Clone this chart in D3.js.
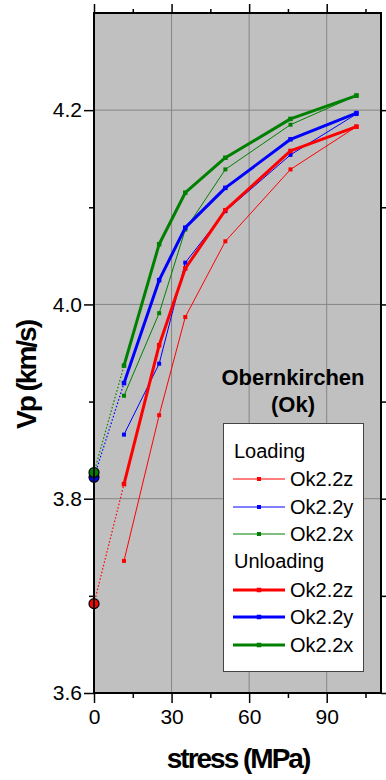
<!DOCTYPE html>
<html>
<head>
<meta charset="utf-8">
<script src="https://cdn.jsdelivr.net/npm/d3@7"></script>
<style>
  body { margin: 0; background: #fff; }
  svg { display: block; font-family: "Liberation Sans", Arial, sans-serif; }
</style>
</head>
<body>
<svg id="chart" width="386" height="780"></svg>
<script>
// stress steps (MPa) shared by every run
const stress = [11.6, 25.2, 35.3, 50.8, 76, 101.5];

// Vp (km/s)
const loadZ = [3.736, 3.886, 3.987, 4.065, 4.139, 4.183];
const loadY = [3.866, 3.939, 4.043, 4.096, 4.154, 4.196];
const loadX = [3.906, 3.991, 4.077, 4.139, 4.185, 4.215];
const unloadZ = [3.815, 3.958, 4.037, 4.097, 4.158, 4.183];
const unloadY = [3.919, 4.025, 4.079, 4.120, 4.170, 4.197];
const unloadX = [3.937, 4.062, 4.115, 4.151, 4.191, 4.215];

// extrapolated Vp at zero stress (z, y, x)
const interceptVp = [3.692, 3.822, 3.827];

const seriesNames = ['Ok2.2z', 'Ok2.2y', 'Ok2.2x'];
const seriesColors = ['#ff0000', '#0000ff', '#008000'];

const xTicks = [0, 30, 60, 90];
const xMinor = [15, 45, 75, 105];
const yTicks = [3.6, 3.8, 4.0, 4.2];
const yMinor = [3.7, 3.9, 4.1];

const margin = { top: 13, left: 94, right: 5, bottom: 87 };
const W = 386, H = 780;
const width = W - margin.left - margin.right;
const height = H - margin.top - margin.bottom;

const svg = d3.select('#chart');
const g = svg.append('g').attr('transform', `translate(${margin.left},${margin.top})`);

const x = d3.scaleLinear().domain([0, 111]).range([0, width]);
const y = d3.scaleLinear().domain([3.6, 4.3]).range([height, 0]);

// plot background
g.append('rect')
  .attr('width', width).attr('height', height)
  .attr('fill', '#c0c0c0');

// grid
g.append('g').selectAll('line')
  .data(xTicks.slice(1)).join('line')
  .attr('x1', d => x(d)).attr('x2', d => x(d))
  .attr('y1', 0).attr('y2', height)
  .attr('stroke', '#858585').attr('stroke-width', 1);
g.append('g').selectAll('line')
  .data(yTicks.slice(1)).join('line')
  .attr('x1', 0).attr('x2', width)
  .attr('y1', d => y(d)).attr('y2', d => y(d))
  .attr('stroke', '#858585').attr('stroke-width', 1);

// axes
function styleAxis(sel) {
  sel.select('.domain').remove();
  sel.selectAll('line').attr('stroke', '#000').attr('stroke-width', 1.5);
  sel.selectAll('text').attr('fill', '#000').attr('font-size', 21);
}

g.append('g').attr('transform', `translate(0,${height})`)
  .call(d3.axisBottom(x).tickValues(xTicks).tickSize(10).tickPadding(6).tickFormat(d3.format('d')))
  .call(styleAxis);
g.append('g').attr('transform', `translate(0,${height})`)
  .call(d3.axisBottom(x).tickValues(xMinor).tickSize(5).tickFormat(''))
  .call(styleAxis);
g.append('g')
  .call(d3.axisTop(x).tickValues(xTicks).tickSize(9).tickFormat(''))
  .call(styleAxis);
g.append('g')
  .call(d3.axisTop(x).tickValues(xMinor).tickSize(4).tickFormat(''))
  .call(styleAxis);

g.append('g')
  .call(d3.axisLeft(y).tickValues(yTicks).tickSize(10).tickPadding(2).tickFormat(d3.format('.1f')))
  .call(styleAxis);
g.append('g')
  .call(d3.axisLeft(y).tickValues(yMinor).tickSize(5).tickFormat(''))
  .call(styleAxis);
g.append('g').attr('transform', `translate(${width},0)`)
  .call(d3.axisRight(y).tickValues(yTicks).tickSize(7).tickFormat(''))
  .call(styleAxis);
g.append('g').attr('transform', `translate(${width},0)`)
  .call(d3.axisRight(y).tickValues(yMinor).tickSize(5).tickFormat(''))
  .call(styleAxis);

// data
const line = d3.line().x(d => x(d[0])).y(d => y(d[1]));
const loading = [loadZ, loadY, loadX];
const unloading = [unloadZ, unloadY, unloadX];

// dotted extrapolation to zero stress
unloading.forEach((vals, i) => {
  g.append('path')
    .attr('d', line([[0, interceptVp[i]], [stress[0], vals[0]]]))
    .attr('fill', 'none')
    .attr('stroke', seriesColors[i])
    .attr('stroke-width', 1.2)
    .attr('stroke-dasharray', '1.5,2');
});

function drawSeries(vals, color, lw, ms) {
  const pts = stress.map((s, j) => [s, vals[j]]);
  g.append('path')
    .attr('d', line(pts))
    .attr('fill', 'none')
    .attr('stroke', color)
    .attr('stroke-width', lw)
    .attr('stroke-linejoin', 'round');
  g.append('g').selectAll('rect')
    .data(pts).join('rect')
    .attr('x', d => x(d[0]) - ms / 2)
    .attr('y', d => y(d[1]) - ms / 2)
    .attr('width', ms).attr('height', ms)
    .attr('fill', color);
}

loading.forEach((vals, i) => drawSeries(vals, seriesColors[i], 1, 4));
unloading.forEach((vals, i) => drawSeries(vals, seriesColors[i], 3, 4.5));

// zero-stress points
[0, 1, 2].forEach(i => {
  g.append('circle')
    .attr('cx', x(0)).attr('cy', y(interceptVp[i]))
    .attr('r', 5)
    .attr('fill', seriesColors[i])
    .attr('stroke', '#000').attr('stroke-width', 1.2);
});

// frame
g.append('rect')
  .attr('width', width).attr('height', height)
  .attr('fill', 'none').attr('stroke', '#000').attr('stroke-width', 2);

// site label
g.append('text')
  .attr('x', 199).attr('y', 372)
  .attr('text-anchor', 'middle')
  .attr('font-size', 22).attr('font-weight', 'bold')
  .text('Obernkirchen');
g.append('text')
  .attr('x', 199).attr('y', 399)
  .attr('text-anchor', 'middle')
  .attr('font-size', 22).attr('font-weight', 'bold')
  .text('(Ok)');

// legend
const leg = svg.append('g');
leg.append('rect')
  .attr('x', 223.5).attr('y', 423.5)
  .attr('width', 140).attr('height', 248)
  .attr('fill', '#fff').attr('stroke', '#444').attr('stroke-width', 1);

const legendGroups = [
  { title: 'Loading', titleY: 458, rows: [479, 507, 534], lw: 1.2, ms: 4 },
  { title: 'Unloading', titleY: 568, rows: [590, 617, 645], lw: 3, ms: 4.5 }
];
legendGroups.forEach(grp => {
  leg.append('text')
    .attr('x', 234).attr('y', grp.titleY)
    .attr('font-size', 20)
    .text(grp.title);
  grp.rows.forEach((ry, i) => {
    leg.append('line')
      .attr('x1', 233).attr('x2', 285)
      .attr('y1', ry).attr('y2', ry)
      .attr('stroke', seriesColors[i]).attr('stroke-width', grp.lw);
    leg.append('rect')
      .attr('x', 259 - grp.ms / 2).attr('y', ry - grp.ms / 2)
      .attr('width', grp.ms).attr('height', grp.ms)
      .attr('fill', seriesColors[i]);
    leg.append('text')
      .attr('x', 290).attr('y', ry + 7)
      .attr('font-size', 20)
      .text(seriesNames[i]);
  });
});

// axis titles
svg.append('text')
  .attr('x', 238).attr('y', 768)
  .attr('text-anchor', 'middle')
  .attr('font-size', 28).attr('font-weight', 'bold')
  .attr('letter-spacing', -2)
  .text('stress (MPa)');
svg.append('text')
  .attr('transform', 'translate(36,375) rotate(-90)')
  .attr('text-anchor', 'middle')
  .attr('font-size', 28).attr('font-weight', 'bold')
  .attr('letter-spacing', -2)
  .text('Vp (km/s)');
</script>
</body>
</html>
